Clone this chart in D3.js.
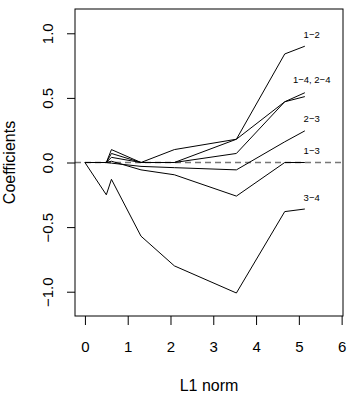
<!DOCTYPE html>
<html><head><meta charset="utf-8">
<script src="https://cdn.jsdelivr.net/npm/d3@7"></script>
<style>body{margin:0;background:#fff}svg{display:block}text{font-family:"Liberation Sans",Arial,sans-serif}</style>
</head><body><svg id="c" width="350" height="398"></svg>
<script>
const l1norm = [0, 0.5, 0.62, 1.31, 2.09, 3.54, 4.67, 5.14];
const seriesNames = ["1-2", "1-4", "2-4", "2-3", "1-3", "3-4"];
const v12 = [0, 0, 0.10, 0, 0.10, 0.18, 0.84, 0.90];
const v14 = [0, 0, 0.07, 0, 0, 0.18, 0.47, 0.54];
const v24 = [0, 0, 0.04, 0, 0, 0.07, 0.47, 0.51];
const v23 = [0, 0, -0.005, -0.03, -0.04, -0.057, 0.16, 0.245];
const v13 = [0, 0, 0.01, -0.057, -0.095, -0.26, 0, 0];
const v34 = [0, -0.25, -0.13, -0.57, -0.80, -1.01, -0.38, -0.36];
const labels = ["1\u22122", "1\u22124, 2\u22124", "2\u22123", "1\u22123", "3\u22124"];
const labelY = [0.99, 0.64, 0.34, 0.09, -0.27];
const xTicks = [0, 1, 2, 3, 4, 5, 6];
const yTicks = [-1.0, -0.5, 0.0, 0.5, 1.0];

const svg = d3.select("#c");
const L = 75, R = 343, T = 9, B = 316;
const x = d3.scaleLinear().domain([-0.232, 6.032]).range([L, R]);
const y = d3.scaleLinear().domain([-1.188, 1.188]).range([B, T]);

// zero reference line
svg.append("line").attr("x1", L).attr("x2", R).attr("y1", y(0)).attr("y2", y(0))
  .attr("stroke", "#777").attr("stroke-width", 1.4).attr("stroke-dasharray", "6,4");

const all = [v12, v14, v24, v23, v13, v34];
const line = d3.line().x((d, i) => x(l1norm[i])).y(d => y(d));
svg.append("g").selectAll("path").data(all).join("path")
  .attr("d", d => line(d)).attr("fill", "none").attr("stroke", "#000").attr("stroke-width", 1);

// box
svg.append("rect").attr("x", L).attr("y", T).attr("width", R - L).attr("height", B - T)
  .attr("fill", "none").attr("stroke", "#000").attr("stroke-width", 1);

// axes
const xa = svg.append("g").attr("transform", `translate(0,${B})`)
  .call(d3.axisBottom(x).tickValues(xTicks).tickFormat(d3.format("d")).tickSize(9).tickPadding(16));
xa.select(".domain").remove();
xa.selectAll("text").attr("font-size", 15).attr("fill", "#000");

const ya = svg.append("g").attr("transform", `translate(${L},0)`)
  .call(d3.axisLeft(y).tickValues(yTicks).tickFormat(d => d3.format(".1f")(d).replace("-", "\u2212")).tickSize(8).tickPadding(0));
ya.select(".domain").remove();
ya.selectAll(".tick text").attr("font-size", 15).attr("fill", "#000")
  .attr("text-anchor", "middle").attr("dy", null).attr("x", 0).attr("y", 0)
  .attr("dominant-baseline", "central")
  .attr("transform", "translate(-28,0) rotate(-90)");

// series labels
svg.append("g").selectAll("text").data(labels).join("text")
  .attr("x", x(5.3)).attr("y", (d, i) => y(labelY[i])).attr("text-anchor", "middle")
  .attr("dominant-baseline", "central").attr("font-size", 9.5).attr("fill", "#000").text(d => d);

// axis titles
svg.append("text").attr("x", (L + R) / 2).attr("y", 391).attr("text-anchor", "middle")
  .attr("font-size", 16).text("L1 norm");
svg.append("text").attr("transform", `translate(15,${(T + B) / 2}) rotate(-90)`)
  .attr("text-anchor", "middle").attr("font-size", 16).text("Coefficients");
</script></body></html>
